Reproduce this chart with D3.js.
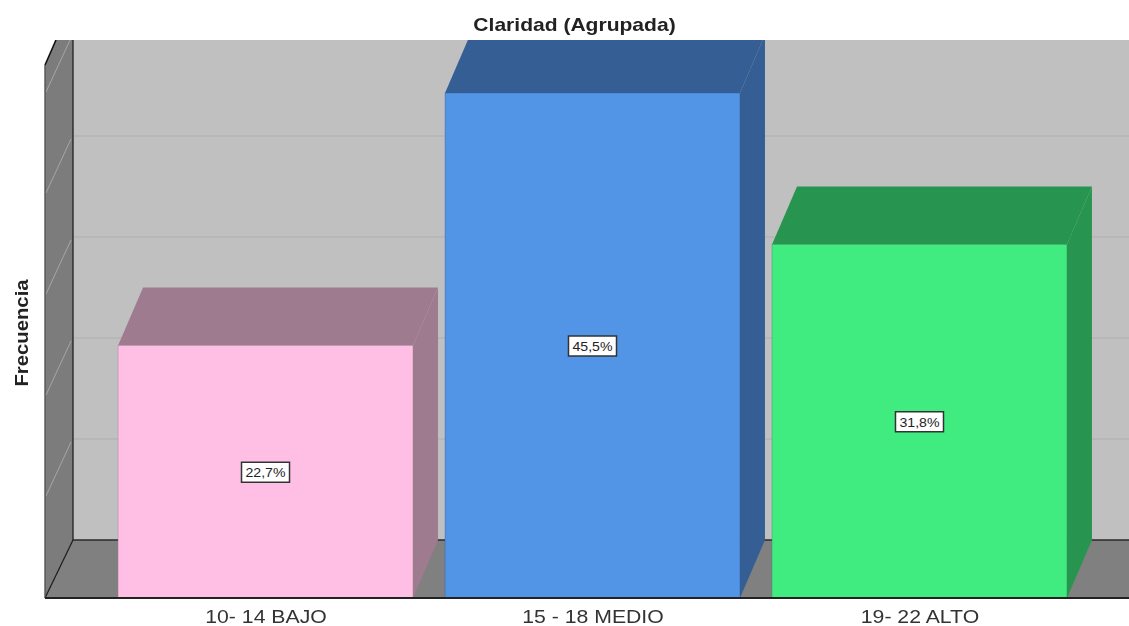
<!DOCTYPE html>
<html>
<head>
<meta charset="utf-8">
<script src="https://cdn.jsdelivr.net/npm/d3@7"></script>
<style>
  html, body { margin: 0; padding: 0; background: #fff; overflow: hidden; }
  svg { display: block; filter: blur(0.6px); }
  text { font-family: "Liberation Sans", Arial, sans-serif; }
</style>
</head>
<body>
<script>
'use strict';

const categories = ["10- 14 BAJO", "15 - 18 MEDIO", "19- 22 ALTO"];
const counts = [5, 10, 7];
const percentLabels = ["22,7%", "45,5%", "31,8%"];
const frontColors = ["#FFBEE3", "#5294E6", "#40EC80"];
const sideColors = ["#9F7B8F", "#345E94", "#27954F"];
const gridTicks = [0, 2, 4, 6, 8, 10];

const width = 1129, height = 626;
const baseY = 598;      // front edge of floor
const wallX = 73, leftX = 45;
const topY = 40;
const wallDy = 58;      // depth of floor, vertical
const barDx = 25;       // depth of a bar, horizontal

const svg = d3.select('body').append('svg')
  .attr('width', width)
  .attr('height', height);

const xScale = d3.scaleBand()
  .domain(categories)
  .range([86, 1099])
  .padding(0.098);

const yScale = d3.scaleLinear()
  .domain([0, 10])
  .range([baseY, baseY - 505]);

const line = d3.line();

svg.append('defs').append('clipPath')
  .attr('id', 'plot')
  .append('rect')
  .attr('x', 0).attr('y', topY)
  .attr('width', width).attr('height', height - topY);

const plot = svg.append('g').attr('clip-path', 'url(#plot)');

// back wall
plot.append('rect')
  .attr('x', wallX).attr('y', topY)
  .attr('width', width - wallX).attr('height', baseY - wallDy - topY)
  .attr('fill', '#C0C0C0');

// floor
plot.append('path')
  .attr('d', line([[leftX, baseY], [wallX, baseY - wallDy], [width, baseY - wallDy], [width, baseY]]) + 'Z')
  .attr('fill', '#808080');

// left wall
plot.append('path')
  .attr('d', line([[leftX, baseY], [leftX, topY + 25], [leftX + 11, topY], [wallX, topY], [wallX, baseY - wallDy]]) + 'Z')
  .attr('fill', '#7C7C7C');

// gridlines on wall and side
gridTicks.slice(1).forEach(function(t) {
  const y = yScale(t) - wallDy;
  plot.append('line')
    .attr('x1', wallX).attr('x2', width)
    .attr('y1', y).attr('y2', y)
    .attr('stroke', '#AEAEAE').attr('stroke-width', 1);
  plot.append('line')
    .attr('x1', wallX - 2).attr('x2', leftX + 1)
    .attr('y1', y + 3).attr('y2', y + wallDy - 1)
    .attr('stroke', '#A6A6A6').attr('stroke-width', 1);
});

// wall outlines
plot.append('path')
  .attr('d', line([[wallX, topY], [wallX, baseY - wallDy], [width, baseY - wallDy]]))
  .attr('fill', 'none').attr('stroke', '#2A2A2A').attr('stroke-width', 1.4);
plot.append('path')
  .attr('d', line([[wallX, baseY - wallDy], [leftX, baseY]]))
  .attr('fill', 'none').attr('stroke', '#1A1A1A').attr('stroke-width', 1.2);
plot.append('path')
  .attr('d', line([[leftX, baseY], [leftX, topY + 25]]))
  .attr('fill', 'none').attr('stroke', '#555').attr('stroke-width', 1.4);
plot.append('path')
  .attr('d', line([[leftX, topY + 25], [leftX + 11, topY]]))
  .attr('fill', 'none').attr('stroke', '#111').attr('stroke-width', 1.6);

// bars: top, side, front
const bars = plot.selectAll('.bar')
  .data(categories)
  .enter()
  .append('g')
  .attr('class', 'bar');

bars.append('path')
  .attr('d', function(d, i) {
    const x0 = xScale(d), x1 = x0 + xScale.bandwidth(), y = yScale(counts[i]);
    return line([[x0, y], [x0 + barDx, y - wallDy], [x1 + barDx, y - wallDy], [x1, y]]) + 'Z';
  })
  .attr('fill', function(d, i) { return sideColors[i]; });

bars.append('path')
  .attr('d', function(d, i) {
    const x1 = xScale(d) + xScale.bandwidth(), y = yScale(counts[i]);
    return line([[x1, y], [x1 + barDx, y - wallDy], [x1 + barDx, baseY - wallDy], [x1, baseY]]) + 'Z';
  })
  .attr('fill', function(d, i) { return sideColors[i]; });

bars.append('rect')
  .attr('x', function(d) { return xScale(d); })
  .attr('y', function(d, i) { return yScale(counts[i]); })
  .attr('width', xScale.bandwidth())
  .attr('height', function(d, i) { return baseY - yScale(counts[i]); })
  .attr('fill', function(d, i) { return frontColors[i]; })
  .attr('stroke', function(d, i) { return sideColors[i]; })
  .attr('stroke-width', 0.4);

// baseline
svg.append('line')
  .attr('x1', leftX).attr('x2', width)
  .attr('y1', baseY).attr('y2', baseY)
  .attr('stroke', '#222').attr('stroke-width', 1.8);

// value labels
const labels = svg.selectAll('.value')
  .data(categories)
  .enter()
  .append('g')
  .attr('class', 'value')
  .attr('transform', function(d, i) {
    const cx = xScale(d) + xScale.bandwidth() / 2;
    const cy = (yScale(counts[i]) + baseY) / 2 + 0.5;
    return 'translate(' + cx + ',' + cy + ')';
  });

labels.append('rect')
  .attr('x', -24).attr('y', -10)
  .attr('width', 48).attr('height', 20)
  .attr('fill', '#fff')
  .attr('stroke', '#333').attr('stroke-width', 1.5);

labels.append('text')
  .attr('text-anchor', 'middle')
  .attr('y', 5)
  .attr('textLength', 40)
  .attr('lengthAdjust', 'spacingAndGlyphs')
  .style('font-size', '13.5px')
  .style('fill', '#222')
  .text(function(d, i) { return percentLabels[i]; });

// category labels, stretched wide like the reference
svg.selectAll('.cat')
  .data(categories)
  .enter()
  .append('text')
  .attr('class', 'cat')
  .attr('transform', function(d) {
    const cx = xScale(d) + xScale.bandwidth() / 2 + 0.5;
    return 'translate(' + cx + ',623)scale(1.18,1)';
  })
  .attr('text-anchor', 'middle')
  .style('font-size', '18px')
  .style('fill', '#333')
  .text(function(d) { return d; });

// title
svg.append('text')
  .attr('transform', 'translate(574.5,31)scale(1.17,1)')
  .attr('text-anchor', 'middle')
  .style('font-size', '18px')
  .style('font-weight', 'bold')
  .style('fill', '#222')
  .text('Claridad (Agrupada)');

// y axis title
svg.append('text')
  .attr('transform', 'translate(28, 333)rotate(-90)scale(1.16,1)')
  .attr('text-anchor', 'middle')
  .style('font-size', '17.5px')
  .style('font-weight', 'bold')
  .style('fill', '#222')
  .text('Frecuencia');
</script>
</body>
</html>
